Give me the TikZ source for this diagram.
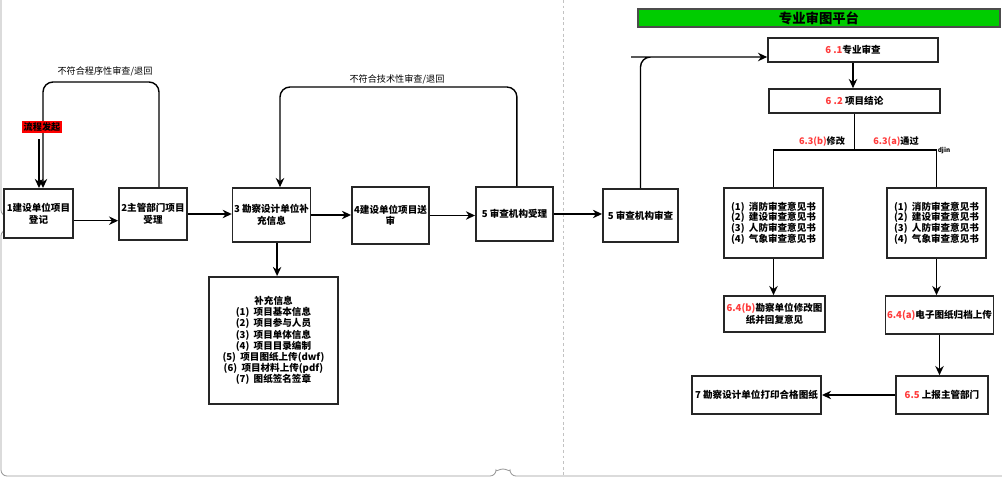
\documentclass[tikz,border=0pt]{standalone}
\usepackage{fontspec}
\setmainfont{Noto Sans CJK SC}
\usepackage{tikz}
\usetikzlibrary{arrows.meta}

\definecolor{numred}{HTML}{FF3B3B}
\definecolor{titlegreen}{HTML}{00CC00}
\definecolor{pagegray}{HTML}{9A9A9A}
\newcommand{\rd}[1]{\textcolor{numred}{#1}}

\tikzset{
  box/.style = {draw = black!85, line width = 1.2pt, fill = white, align = center,
    inner sep = 1pt, font = \bfseries\fontsize{6.8}{8.2}\selectfont},
  arr/.style = {line width = 1pt, -{Stealth[length = 6.5pt, width = 6pt]}},
  conn/.style = {line width = 1pt},
  lbl/.style = {inner sep = 1pt, font = \fontsize{6.5}{8}\selectfont},
}

\begin{document}
\begin{tikzpicture}[x = 0.025cm, y = -0.025cm]
\useasboundingbox (0,0) rectangle (1002,478);

% page edges
\draw[pagegray, line width = 0.6pt, rounded corners = 0.15cm] (1,0) -- (1,216) arc (90:-90:0.175cm) -- (1,476) -- (496,476) arc (180:0:0.175cm) -- (1002,476);
\draw[pagegray!60, dash pattern = on 2pt off 2pt] (563,0) -- (563,476);

% left part
\node[box, minimum width = 1.73cm, minimum height = 1.23cm] (reg) at (38.5,213.5) {1建设单位项目\\登记};
\node[box, minimum width = 1.70cm, minimum height = 1.30cm] (accept) at (153,214) {2主管部门项目\\受理};
\node[box, minimum width = 1.93cm, minimum height = 1.35cm] (supply) at (271.5,215) {3 勘察设计单位补\\充信息};
\node[box, minimum width = 1.93cm, minimum height = 1.43cm] (submit) at (390.5,215.5) {4建设单位项目送\\审};
\node[box, minimum width = 1.93cm, minimum height = 1.35cm] (recv) at (514.5,214) {5 审查机构受理};
\node[box, minimum width = 1.88cm, minimum height = 1.33cm] (check) at (640.5,215.5) {5 审查机构审查};
\node[box, minimum width = 3.23cm, minimum height = 3.18cm, font = \bfseries\fontsize{6.8}{7.9}\selectfont] (info) at (273.5,340.5)
  {补充信息\\(1)\ \ 项目基本信息\\(2)\ \ 项目参与人员\\(3)\ \ 项目单体信息\\(4)\ \ 项目目录编制\\(5)\ \ 项目图纸上传(dwf)\\(6)\ \ 项目材料上传(pdf)\\(7)\ \ 图纸签名签章};

\coordinate (rg) at ([yshift = -0.18cm]reg.east);
\draw[arr] (rg) -- (rg -| accept.west);
\draw[arr] (accept.east) -- (accept.east -| supply.west);
\draw[arr] (supply.east) -- (supply.east -| submit.west);
\draw[arr] (submit.east) -- (submit.east -| recv.west);
\draw[arr] (recv.east) -- (recv.east -| check.west);
\coordinate (d3) at ([xshift = 0.14cm]supply.south);
\draw[arr] (d3) -- (d3 |- info.north);

% return loops
\coordinate (back1) at (43,82);
\draw[arr, rounded corners = 0.25cm] ([xshift = 0.15cm]accept.north) |- (back1) -- (back1 |- reg.north);
\node[lbl] (lab1) at (105,71) {不符合程序性审查/退回};
\node[lbl, fill = red, text = black, font = \bfseries\fontsize{6.5}{8}\selectfont] (start) at (42,127) {流程发起};
\coordinate (s0) at ([xshift = -0.075cm, yshift = -0.15cm]start.south);
\draw[arr] (s0) -- (s0 |- reg.north);

\coordinate (back2) at (280,87);
\draw[arr, rounded corners = 0.25cm] ([xshift = 0.06cm]recv.north) |- (back2) -- (back2 |- supply.north);
\node[lbl] (lab2) at (397,79) {不符合技术性审查/退回};

% right part
\node[box, fill = titlegreen, draw = black!70, line width = 0.8pt, minimum width = 9.05cm, minimum height = 0.45cm,
  font = \bfseries\fontsize{9.5}{11}\selectfont] (title) at (819,18) {专业审图平台};
\node[box, minimum width = 4.25cm, minimum height = 0.6cm] (prof) at (853,50) {\rd{6 .1}专业审查};
\node[box, minimum width = 4.28cm, minimum height = 0.6cm] (concl) at (854.5,101) {\rd{6 .2} 项目结论};
\node[box, minimum width = 2.48cm, minimum height = 1.75cm, font = \bfseries\fontsize{6.8}{7.6}\selectfont] (revL) at (773.5,223)
  {(1)\ \ 消防审查意见书\\(2)\ \ 建设审查意见书\\(3)\ \ 人防审查意见书\\(4)\ \ 气象审查意见书};
\node[box, minimum width = 2.48cm, minimum height = 1.75cm, font = \bfseries\fontsize{6.8}{7.6}\selectfont] (revR) at (936.5,223)
  {(1)\ \ 消防审查意见书\\(2)\ \ 建设审查意见书\\(3)\ \ 人防审查意见书\\(4)\ \ 气象审查意见书};
\node[box, minimum width = 2.53cm, minimum height = 0.9cm] (modify) at (774.5,314) {\rd{6.4(b)}勘察单位修改图\\纸并回复意见};
\node[box, minimum width = 2.63cm, minimum height = 0.95cm] (archive) at (939.5,315) {\rd{6.4(a)}电子图纸归档上传};
\node[box, minimum width = 2.3cm, minimum height = 0.95cm] (report) at (942,395) {\rd{6.5} 上报主管部门};
\node[box, minimum width = 3.23cm, minimum height = 0.95cm] (print) at (756.5,395) {7 勘察设计单位打印合格图纸};

\coordinate (back3) at (641,57);
\draw[arr, rounded corners = 0.25cm] (check.north) |- (back3) -- (back3 -| prof.west);
\draw[arr] (prof.south) -- (prof.south |- concl.north);

\coordinate (fork) at (853,150);
\draw[conn] (concl.south) -- (concl.south |- fork);
\draw[conn] (revL.north) |- (fork) -| (revR.north);
\node[lbl, font = \bfseries\fontsize{6.5}{8}\selectfont] (labB) at (822,142) {\rd{6.3(b)}修改};
\node[lbl, font = \bfseries\fontsize{6.5}{8}\selectfont] (labA) at (896,142) {\rd{6.3(a)}通过};
\node[lbl, font = \bfseries\fontsize{4.5}{5}\selectfont] (dj) at (944,151) {djin};

\draw[arr] (revL.south) -- (revL.south |- modify.north);
\draw[arr] (revR.south) -- (revR.south |- archive.north);
\draw[arr] (archive.south) -- (archive.south |- report.north);
\draw[arr] (report.west) -- (report.west -| print.east);
\end{tikzpicture}
\end{document}
